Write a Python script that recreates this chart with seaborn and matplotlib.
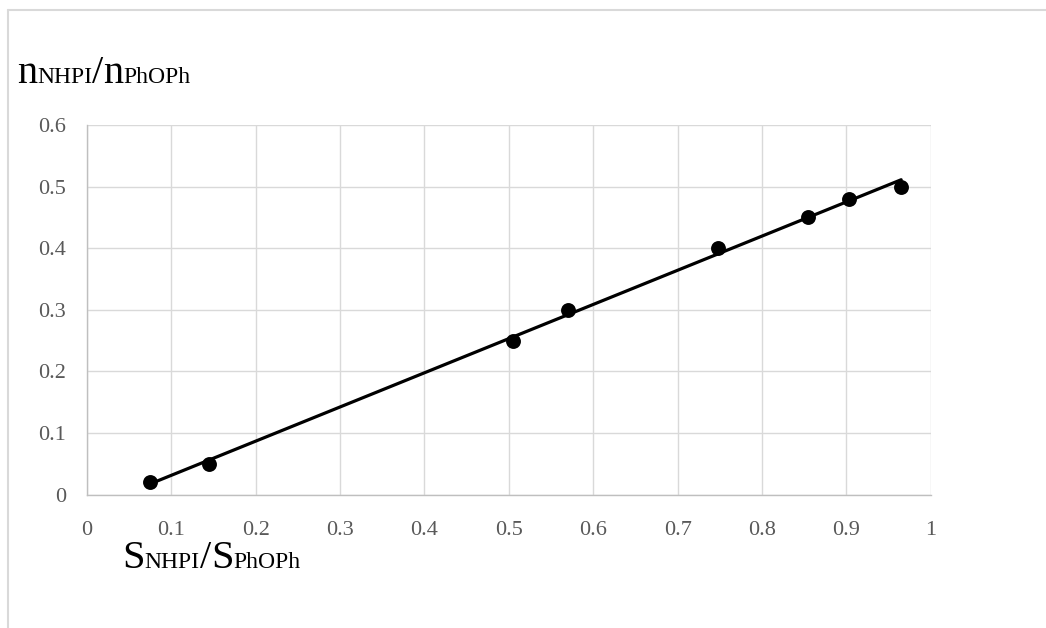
import matplotlib
matplotlib.use("Agg")
import matplotlib.pyplot as plt
import seaborn as sns
import pandas as pd
import numpy as np
from matplotlib.lines import Line2D

# Data
s_ratio = [0.075, 0.145, 0.505, 0.570, 0.748, 0.855, 0.903, 0.965]
n_ratio = [0.02, 0.05, 0.25, 0.30, 0.40, 0.45, 0.48, 0.50]
x_ticks = [0, 0.1, 0.2, 0.3, 0.4, 0.5, 0.6, 0.7, 0.8, 0.9, 1]
y_ticks = [0, 0.1, 0.2, 0.3, 0.4, 0.5, 0.6]
x_tick_labels = ["0", "0.1", "0.2", "0.3", "0.4", "0.5", "0.6", "0.7", "0.8", "0.9", "1"]
y_tick_labels = ["0", "0.1", "0.2", "0.3", "0.4", "0.5", "0.6"]

df = pd.DataFrame({"S": s_ratio, "n": n_ratio})

sns.set_style("white")
plt.rcParams["font.family"] = ["Liberation Serif", "DejaVu Serif"]

W, H = 1046, 628
fig = plt.figure(figsize=(W / 100, H / 100), dpi=100)
ax = fig.add_axes([87 / W, 1 - 494.5 / H, (930.7 - 87) / W, (494.5 - 125) / H])

grid_c = "#d9d9d9"
ax.set_xlim(0, 1)
ax.set_ylim(0, 0.6)
ax.set_xticks(x_ticks)
ax.set_yticks(y_ticks)
ax.set_xticklabels(x_tick_labels)
ax.set_yticklabels(y_tick_labels)
ax.grid(True, color=grid_c, linewidth=1.0)
ax.set_axisbelow(True)
for side in ["top", "right"]:
    ax.spines[side].set_visible(False)
for side in ["left", "bottom"]:
    ax.spines[side].set_color("#bfbfbf")
    ax.spines[side].set_linewidth(1.0)
ax.tick_params(axis="both", length=0, labelsize=16, labelcolor="#595959")
ax.tick_params(axis="x", pad=19)
ax.tick_params(axis="y", pad=15)

sns.regplot(data=df, x="S", y="n", ax=ax, ci=None, color="black",
            scatter_kws={"s": 115, "zorder": 4, "linewidths": 0, "alpha": 1},
            line_kws={"linewidth": 2.3, "zorder": 3})
ax.set_xlabel("")
ax.set_ylabel("")
ax.set_xlim(0, 1)
ax.set_ylim(0, 0.6)

# Frame lines (chart border, partially visible)
fig.add_artist(Line2D([8 / W, 1], [1 - 10 / H, 1 - 10 / H], transform=fig.transFigure,
                      color=grid_c, linewidth=1.5))
fig.add_artist(Line2D([8 / W, 8 / W], [0, 1 - 10 / H], transform=fig.transFigure,
                      color=grid_c, linewidth=1.5))

# Axis titles made of mixed-size pieces
big, small = 29, 17


def compound(pieces, x0, y0):
    fig.canvas.draw()
    r = fig.canvas.get_renderer()
    x = x0
    for txt, size in pieces:
        t = fig.text(x / W, 1 - y0 / H, txt, fontsize=size, color="black",
                     ha="left", va="baseline")
        bb = t.get_window_extent(renderer=r)
        x += bb.width


compound([("n", big), ("NHPI", small), ("/", big), ("n", big), ("PhOPh", small)], 17, 83)
compound([("S", big), ("NHPI", small), ("/", big), ("S", big), ("PhOPh", small)], 122, 568)

fig.savefig("out.png", dpi=100)
